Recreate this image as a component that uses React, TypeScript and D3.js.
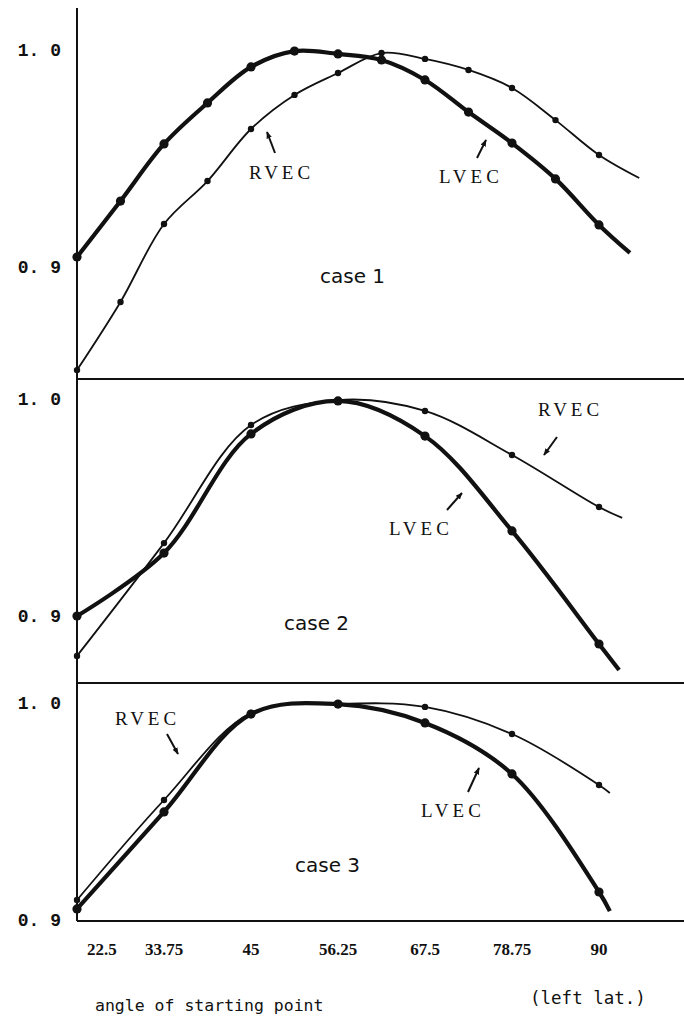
import * as d3 from 'd3';
import React from 'react';

// angles of the starting point (left lat.)
const anglesFine = [22.5, 28.125, 33.75, 39.375, 45, 50.625, 56.25, 61.875, 67.5, 73.125, 78.75, 84.375, 90];
const anglesCoarse = [22.5, 33.75, 45, 56.25, 67.5, 78.75, 90];
const tickAngles = [22.5, 33.75, 45, 56.25, 67.5, 78.75, 90];
const tickLabels = ['22.5', '33.75', '45', '56.25', '67.5', '78.75', '90'];
const yTickValues = [1.0, 0.9];
const yTickLabels = ['1. 0', '0. 9'];

// case 1
const case1Lvec = [0.9046, 0.9304, 0.9567, 0.9756, 0.9922, 0.9995, 0.9982, 0.9954, 0.9862, 0.9714, 0.9571, 0.9406, 0.9194];
const case1LvecEnd = [94.0, 0.9065];
const case1Rvec = [0.8525, 0.8839, 0.9198, 0.9396, 0.9636, 0.9793, 0.9894, 0.9986, 0.9959, 0.9908, 0.9825, 0.9677, 0.9516];
const case1RvecEnd = [95.2, 0.941];

// case 2
const case2Lvec = [0.9, 0.929, 0.9839, 0.9991, 0.9829, 0.9392, 0.8871];
const case2LvecEnd = [92.6, 0.8751];
const case2Rvec = [0.8816, 0.9336, 0.988, 0.9995, 0.9945, 0.9742, 0.9502];
const case2RvecEnd = [93.0, 0.9452];

// case 3
const case3Lvec = [0.9051, 0.9498, 0.9949, 0.9995, 0.9908, 0.9673, 0.9129];
const case3LvecEnd = [91.4, 0.9041];
const case3Rvec = [0.9092, 0.9553, 0.9954, 0.9995, 0.9982, 0.9857, 0.9622];
const case3RvecEnd = [91.4, 0.9585];

const W = 684;
const H = 1019;
const PANEL_H = 217; // pixels between 0.9 and 1.0

const panels = [
  {
    name: 'case 1', top: 50, angles: anglesFine,
    lvec: case1Lvec, lvecEnd: case1LvecEnd, rvec: case1Rvec, rvecEnd: case1RvecEnd,
    caseAt: [320, 283],
    rvecText: [249, 179], rvecArrow: [[275, 153], [267, 132]],
    lvecText: [439, 183], lvecArrow: [[477, 158], [486, 140]],
  },
  {
    name: 'case 2', top: 399, angles: anglesCoarse,
    lvec: case2Lvec, lvecEnd: case2LvecEnd, rvec: case2Rvec, rvecEnd: case2RvecEnd,
    caseAt: [284, 630],
    rvecText: [538, 416], rvecArrow: [[557, 437], [544, 455]],
    lvecText: [389, 535], lvecArrow: [[447, 510], [462, 493]],
  },
  {
    name: 'case 3', top: 703, angles: anglesCoarse,
    lvec: case3Lvec, lvecEnd: case3LvecEnd, rvec: case3Rvec, rvecEnd: case3RvecEnd,
    caseAt: [295, 872],
    rvecText: [115, 725], rvecArrow: [[167, 734], [178, 754]],
    lvecText: [421, 817], lvecArrow: [[468, 792], [479, 768]],
  },
];

const ink = '#111';

const App = () => {
  const x = d3.scaleLinear().domain([22.5, 90]).range([77, 599]);
  const axisX = x(22.5);

  const curveFor = (y) =>
    d3.line().x(d => x(d[0])).y(d => y(d[1])).curve(d3.curveCatmullRom.alpha(0.5));

  const bottomY = panels[2].top + PANEL_H;
  const separators = [379, 683];
  const tagStyle = { fontFamily: '"Liberation Serif", serif', fontSize: 19, letterSpacing: 4 };

  return (
    <svg width={W} height={H} style={{ position: 'absolute', left: 0, top: 0, background: '#fff' }}>
      <defs>
        <marker id="head" viewBox="0 0 10 10" refX="9" refY="5" markerWidth="7" markerHeight="7" orient="auto" markerUnits="userSpaceOnUse">
          <path d="M0,1 L10,5 L0,9 z" fill={ink} />
        </marker>
      </defs>

      {/* y axis and panel frames */}
      <line x1={axisX} x2={axisX} y1={8} y2={bottomY + 1} stroke={ink} strokeWidth={2} />
      {separators.map(s => (
        <line key={s} x1={axisX} x2={W} y1={s} y2={s} stroke={ink} strokeWidth={2} />
      ))}
      <line x1={axisX} x2={W} y1={bottomY + 1} y2={bottomY + 1} stroke={ink} strokeWidth={2} />

      {panels.map(p => {
        const y = d3.scaleLinear().domain([0.9, 1.0]).range([p.top + PANEL_H, p.top]);
        const line = curveFor(y);
        const lv = p.angles.map((a, i) => [a, p.lvec[i]]);
        const rv = p.angles.map((a, i) => [a, p.rvec[i]]);
        return (
          <g key={p.name}>
            {yTickValues.map((v, i) => (
              <text key={v} x={61} y={y(v) + 6} textAnchor="end"
                style={{ fontFamily: '"Liberation Mono", monospace', fontWeight: 700, fontSize: 18 }} fill={ink}>
                {yTickLabels[i]}
              </text>
            ))}

            <path d={line([...rv, p.rvecEnd])} fill="none" stroke={ink} strokeWidth={1.8} />
            <path d={line([...lv, p.lvecEnd])} fill="none" stroke={ink} strokeWidth={4.2} />
            {rv.map((d, i) => <circle key={'r' + i} cx={x(d[0])} cy={y(d[1])} r={3.2} fill={ink} />)}
            {lv.map((d, i) => <circle key={'l' + i} cx={x(d[0])} cy={y(d[1])} r={4.6} fill={ink} />)}

            <text x={p.caseAt[0]} y={p.caseAt[1]} fill={ink}
              style={{ fontFamily: '"DejaVu Sans", sans-serif', fontSize: 20 }}>{p.name}</text>

            <text x={p.rvecText[0]} y={p.rvecText[1]} fill={ink} style={tagStyle}>RVEC</text>
            <line x1={p.rvecArrow[0][0]} y1={p.rvecArrow[0][1]} x2={p.rvecArrow[1][0]} y2={p.rvecArrow[1][1]}
              stroke={ink} strokeWidth={2} markerEnd="url(#head)" />
            <text x={p.lvecText[0]} y={p.lvecText[1]} fill={ink} style={tagStyle}>LVEC</text>
            <line x1={p.lvecArrow[0][0]} y1={p.lvecArrow[0][1]} x2={p.lvecArrow[1][0]} y2={p.lvecArrow[1][1]}
              stroke={ink} strokeWidth={2} markerEnd="url(#head)" />
          </g>
        );
      })}

      {/* x tick labels */}
      {tickAngles.map((a, i) => (
        <text key={a} x={i === 0 ? x(a) + 10 : x(a)} y={bottomY + 35} textAnchor={i === 0 ? 'start' : 'middle'} fill={ink}
          style={{ fontFamily: '"Liberation Serif", serif', fontWeight: 700, fontSize: 17 }}>
          {tickLabels[i]}
        </text>
      ))}

      <text x={95} y={1011} fill={ink} style={{ fontFamily: '"DejaVu Sans Mono", monospace', fontSize: 16.5 }}>
        angle of starting point
      </text>
      <text x={530} y={1004} fill={ink} style={{ fontFamily: '"DejaVu Sans Mono", monospace', fontSize: 17.5 }}>
        (left lat.)
      </text>
    </svg>
  );
};

export default App;
